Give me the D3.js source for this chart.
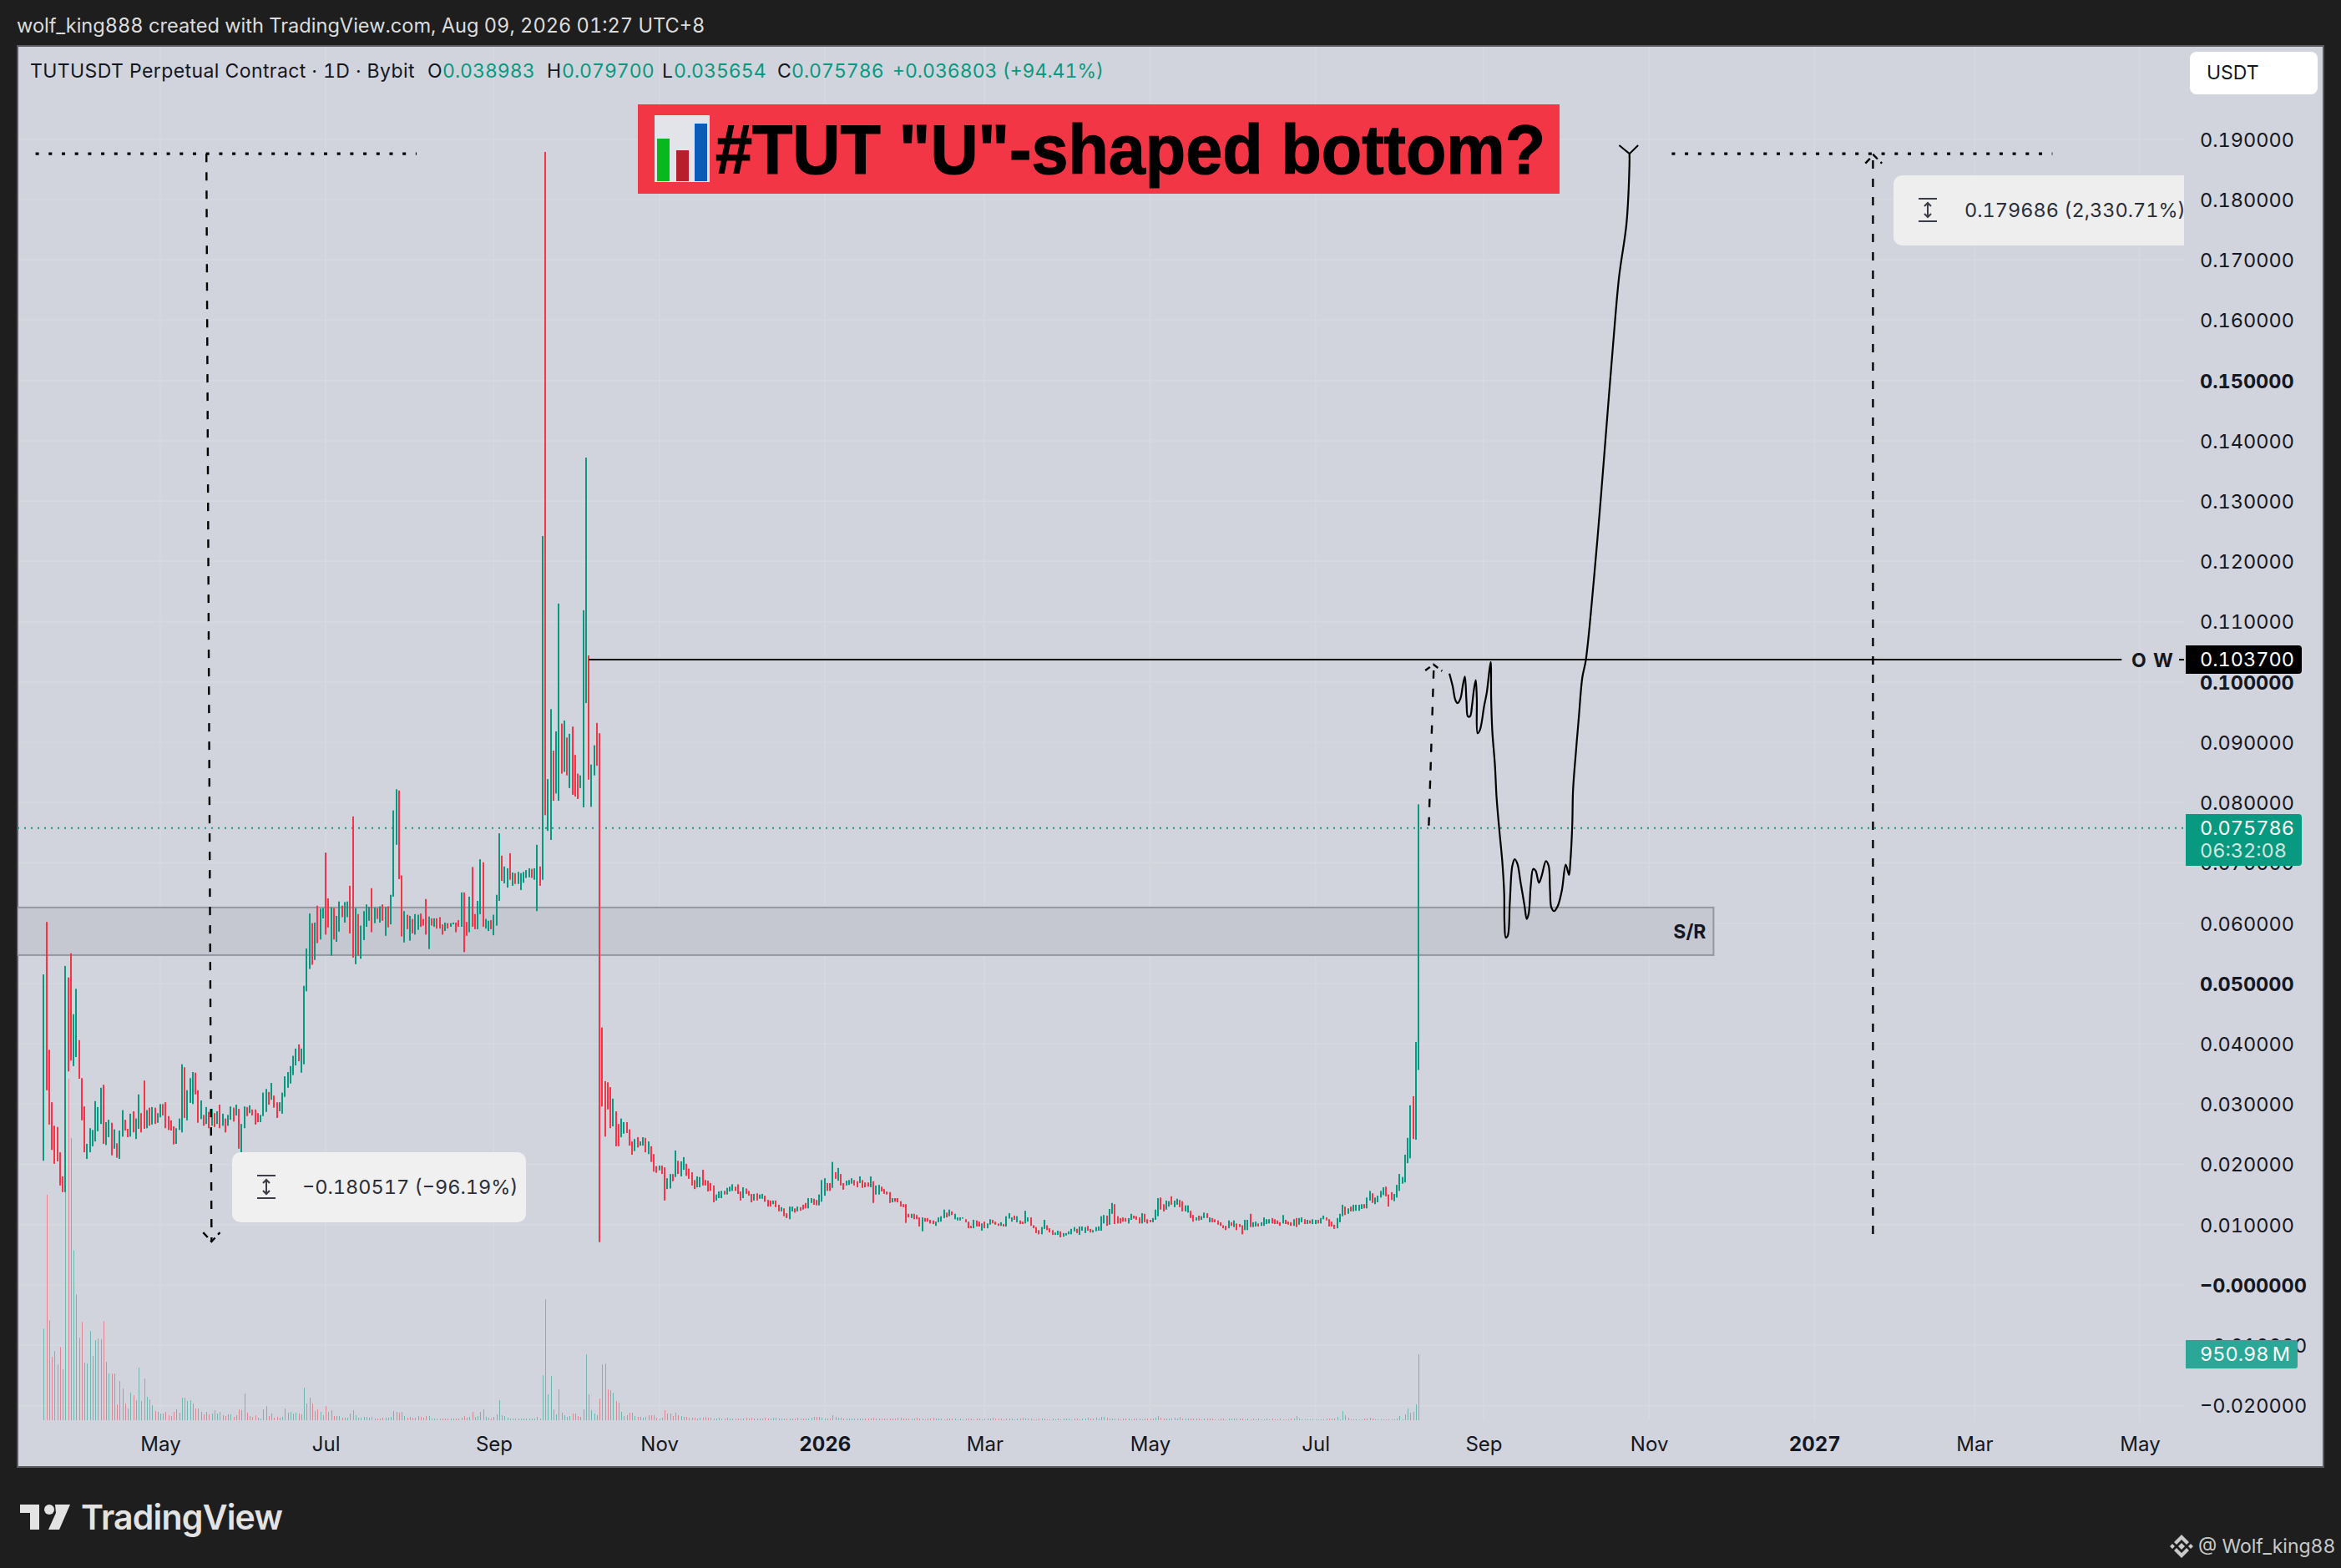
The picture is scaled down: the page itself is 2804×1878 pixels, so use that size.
<!DOCTYPE html>
<html>
<head>
<meta charset="utf-8">
<script src="https://cdn.jsdelivr.net/npm/d3@7/dist/d3.min.js"></script>
<style>
html,body{margin:0;padding:0;background:#1e1e1e;}
svg{display:block;}
text{font-family:Inter,"Noto Sans",sans-serif;font-variant-numeric:tabular-nums;}
</style>
</head>
<body>
<svg id="c" width="2804" height="1878" viewBox="0 0 2804 1878"></svg>
<script>
// prices are in thousandths of USDT; one entry per daily candle from 2025-03-19
const highs = [
51.5,60.2,39.0,30.3,26.4,26.2,22.0,18.0,52.9,51.0,55.0,44.9,49.1,40.6,34.3,29.6,23.4,26.0,25.7,30.5,29.5,32.7,33.2,27.0,27.4,26.9,25.8,23.5,25.6,29.0,27.4,25.9,28.4,28.8,27.6,31.6,28.5,33.9,29.0,29.4,29.5,29.4,28.5,30.0,30.0,30.3,28.0,27.3,26.3,26.0,27.6,36.6,
36.1,32.3,34.3,35.3,35.2,32.3,30.6,28.2,29.5,28.7,29.2,28.5,28.8,29.9,28.4,27.6,28.2,29.6,29.4,29.9,29.2,26.7,29.6,29.5,29.8,29.1,29.1,28.5,28.2,31.9,32.5,32.0,33.5,31.4,30.3,30.3,31.9,34.6,35.3,36.3,38.0,39.2,39.9,39.2,49.6,
55.8,61.6,60.0,60.1,62.9,62.4,62.5,71.7,64.1,62.6,
62.5,61.2,63.6,62.9,63.5,63.6,66.2,77.7,62.5,61.5,
59.6,62.0,63.1,62.7,65.8,62.6,62.5,62.8,63.1,62.7,
62.8,64.7,78.7,82.2,82.0,67.9,62.0,61.4,61.2,60.7,
61.5,61.4,61.6,60.7,64.0,61.1,60.8,60.8,60.8,61.0,
59.8,60.1,60.0,60.0,60.1,60.1,60.5,65.1,65.1,60.2,
64.4,69.3,61.5,63.7,70.6,70.1,60.7,60.4,60.5,61.4,
64.7,74.9,71.2,69.4,69.1,71.6,68.4,68.3,68.5,68.3,
68.5,68.8,69.1,69.0,69.1,73.0,69.4,124.2,187.9,83.9,
95.5,88.6,91.8,113.0,93.1,93.6,90.8,91.4,92.6,87.9,
84.8,84.5,111.9,137.2,104.4,86.3,89.5,93.2,91.5,
42.7,33.8,33.6,32.8,30.9,28.8,26.7,27.6,27.0,27.0,
25.8,23.8,24.2,24.5,23.8,24.5,24.4,23.8,23.0,21.7,
19.7,19.8,19.8,19.5,17.7,18.4,18.4,22.3,20.6,20.5,
21.2,20.1,19.3,18.7,17.4,18.0,17.9,19.1,17.4,17.3,
16.9,16.5,15.0,15.5,15.6,15.6,16.1,16.3,16.7,16.3,
16.7,15.5,16.2,16.0,15.6,15.1,15.1,15.2,15.0,15.1,
14.8,14.1,14.0,14.0,14.0,13.3,12.9,12.7,11.9,13.0,
13.0,12.7,13.0,12.9,13.3,13.6,14.4,14.4,14.3,14.1,
15.0,17.4,17.7,16.9,16.9,20.4,18.7,19.4,18.4,16.9,
17.3,17.4,17.7,17.4,17.2,18.0,17.4,17.0,17.0,18.0,
17.2,16.5,16.6,16.3,15.9,15.5,15.4,14.4,14.4,14.4,
13.9,13.4,13.4,11.8,11.8,11.8,11.6,11.2,11.2,11.1,
11.1,10.8,10.7,10.5,11.2,11.4,12.5,12.0,12.5,12.2,
11.8,11.2,11.2,11.2,10.9,10.5,9.8,10.8,10.7,10.5,
10.2,10.5,10.2,10.9,10.8,10.5,10.2,10.4,10.1,11.4,
11.9,11.2,11.5,11.4,10.7,10.5,12.3,11.2,11.2,9.9,
9.6,9.1,9.6,10.8,9.9,9.4,9.1,8.7,9.0,8.9,
8.6,8.6,8.9,9.3,9.6,9.3,9.7,9.7,9.6,9.8,
9.3,9.1,9.6,9.7,11.4,11.6,11.5,12.6,13.6,13.4,
11.4,11.1,11.2,11.1,11.1,11.8,11.5,11.4,11.2,11.9,
11.8,10.9,10.8,11.1,12.5,14.4,14.5,13.4,14.0,13.9,
14.7,14.0,14.3,14.1,13.9,13.2,13.2,12.3,11.6,11.2,
11.5,11.4,12.0,11.9,11.2,11.1,10.9,10.7,10.4,9.9,
9.8,10.7,10.4,10.7,10.2,10.1,9.9,10.8,10.8,11.8,
10.4,10.5,10.2,10.4,11.2,10.9,10.9,11.1,10.9,10.7,
10.4,11.6,10.8,10.5,10.4,
10.9,11.1,11.1,11.2,10.9,10.8,10.7,10.9,10.8,10.8,11.1,11.5,11.2,10.9,10.5,10.0,11.1,11.8,13.3,13.0,12.7,13.0,13.3,13.3,13.3,13.4,13.4,14.5,15.6,15.2,14.5,14.8,15.6,16.2,16.3,15.0,15.4,15.1,16.6,18.4,17.9,21.6,24.4,29.8,31.3,40.3,79.7
];
const lows = [
20.6,32.3,26.6,22.4,20.1,20.5,16.5,15.4,15.4,35.4,37.2,36.3,37.8,34.2,27.3,22.0,20.9,22.0,23.0,23.8,25.5,26.7,23.4,23.2,24.5,21.5,22.6,21.1,20.9,24.6,25.6,24.5,24.6,25.3,24.2,25.9,25.3,25.9,26.0,26.4,26.6,26.7,26.9,27.8,28.1,26.0,25.7,25.6,23.3,23.4,25.7,25.3,
27.7,27.3,30.2,30.0,31.6,26.9,27.5,26.4,26.7,26.0,26.4,26.2,26.7,26.0,26.4,25.3,26.4,27.4,27.1,28.1,22.6,22.0,26.0,28.0,28.5,28.1,26.6,27.0,27.0,28.0,28.7,29.9,30.7,29.4,27.7,28.8,28.4,31.2,32.7,33.4,34.8,36.4,37.1,35.2,36.6,
48.7,52.4,53.1,53.9,56.7,57.3,60.8,58.1,59.3,54.6,
57.3,56.9,58.6,61.0,60.1,61.0,58.3,54.3,53.2,54.6,
54.1,57.2,59.4,60.4,58.5,60.0,60.7,60.1,60.4,57.9,
59.3,59.8,64.4,73.0,67.3,57.8,56.8,59.0,57.1,58.3,
58.1,58.9,59.4,59.6,58.1,55.7,59.6,59.4,59.1,59.1,
58.1,58.7,59.1,59.4,59.8,58.5,59.4,59.4,55.2,57.9,
58.5,59.4,59.0,59.0,61.5,59.4,59.1,58.7,59.0,58.0,
59.6,63.7,67.0,66.6,65.9,67.2,66.2,66.5,66.5,65.5,
66.7,67.5,67.6,67.5,67.2,62.0,66.2,67.2,77.9,75.3,
73.8,80.3,81.5,80.3,84.8,85.1,84.5,82.4,81.3,81.0,
80.6,82.4,79.2,96.5,83.8,79.3,84.5,86.1,7.1,
29.6,24.6,29.1,26.0,26.3,23.0,23.0,24.5,25.1,25.2,
23.1,21.6,22.2,22.8,23.1,23.1,22.0,21.7,20.4,18.8,
18.6,19.0,18.4,14.0,15.9,16.0,17.2,17.9,18.4,18.0,
19.1,18.1,17.6,16.5,15.9,16.2,16.2,16.5,16.5,15.5,
15.6,13.7,14.0,14.4,14.4,15.0,15.0,15.5,15.6,15.6,
15.1,14.0,14.4,15.1,14.8,13.7,14.0,14.0,14.3,14.3,
13.8,13.0,13.0,13.4,12.9,12.2,12.2,11.4,11.1,10.9,
12.2,12.0,12.2,12.3,12.5,12.7,12.7,13.6,13.3,13.2,
13.2,13.8,14.8,15.6,15.6,16.1,17.6,17.3,16.5,15.8,
16.5,16.6,16.8,16.5,16.2,16.9,16.1,16.2,16.3,16.2,
13.6,15.0,15.0,15.5,15.1,15.0,13.6,13.7,13.8,13.7,
13.0,12.9,10.3,11.2,11.1,10.9,10.9,9.7,8.9,10.5,
10.5,10.2,10.1,9.8,10.4,10.5,11.1,11.2,11.4,11.6,
10.9,10.7,10.7,11.0,10.4,9.4,9.4,9.4,9.7,9.7,
9.0,9.4,9.4,10.0,10.2,10.0,9.8,9.8,9.7,9.7,
11.0,10.5,10.8,10.4,10.1,10.1,10.2,10.5,9.8,9.4,
8.6,8.4,8.4,9.3,9.1,8.7,8.3,8.3,8.3,7.9,
8.0,8.2,8.4,8.4,8.9,8.6,8.3,9.0,8.6,9.0,
8.7,8.7,8.9,9.0,9.0,10.2,9.8,10.0,11.8,10.1,
10.2,10.2,10.5,10.5,10.2,10.8,11.0,10.8,10.2,10.2,
10.4,10.2,10.4,10.4,10.8,11.4,12.5,12.2,12.5,13.0,
13.3,12.9,13.3,12.9,12.2,12.2,12.0,11.1,10.5,10.7,
10.7,10.8,11.1,11.1,10.4,10.4,10.4,10.0,9.8,9.4,
9.1,9.4,9.8,9.6,9.1,9.6,8.4,9.1,9.1,9.6,
9.6,9.7,9.7,9.8,9.8,10.1,10.2,10.2,10.1,10.1,
9.8,10.2,10.1,10.0,9.8,
9.8,9.6,10.0,10.4,10.1,10.1,10.2,10.1,10.1,10.2,10.2,10.9,10.7,9.7,9.7,9.3,9.4,10.4,11.4,11.6,11.8,12.2,12.2,12.3,12.3,12.6,12.7,12.7,14.0,13.6,13.4,13.7,14.5,14.9,14.7,13.0,14.1,13.9,14.5,15.6,16.8,17.0,20.2,21.0,24.2,24.1,35.654
];
// G = up day, R = down day, same order as highs and lows
const dirsEarly = "GRRRRRRRGRRGGRRRGGGGGGRGGRGRGGRRGRGGRRGRGRGGRRRRRGGG";
const dirsSpring = "RGGGRRGRGRGRGRGRGGRGRGGRGRRRGGGRGRRGGGGGGGRGG";
const dirsSummer = ["GGRGRGGRRG","RGGRGGRRGR","GGGGRGRGRG","RGGGRRGRGR","GGRRRGRGRR","RGRGGRRGRR","GRRGGRGGRG","GGRGGRGRGG","GGGRGGRGRG","GRGGRGRGRR","RGGGRGGRR"];
const dirsSlide = [
"RRRRGRRGGR","RRGRGGRGRR","RGRRGGRGRG","GRRRRGGRRR","RRGGGRGGGR","RRGRRRGRGG","RRRGRRGRRG","GRGRRRGGRR","GGGRRGRGRR","GGGRRGRRRG",
"RGGRRRRGRR","RRRRGRRRGR","RRRGGGGRGR","GGGGRRRGRR","GRGGRRRGRG","GGRGRRGGRR","RRGGRRRGGR","GGGGGRGGGR","RGGGGGRGGR","RRRRGGRRRG",
"RRRGGGRRGG","RGGRRGGRRG","RGGRGRRRRR","RGRGRRRGGR","GGRGGGGRRR","RGRRR"
];
const dirsBreakout = "GRGGRGRGGRGGRRRRGGGRGRGGGGRGGRGGGGRRRGGGGGGGRGG";
// traded volume per candle, in millions
const volumes = [
1320,3252,1440,912,996,804,1056,732,3300,4920,4068,2448,1812,1188,1416,828,816,1284,924,1152,1176,1164,1428,840,672,672,672,228,564,456,240,168,396,360,288,756,276,600,336,300,216,132,120,96,96,120,72,60,120,156,108,324,324,276,288,240,168,168,120,84,120,84,96,144,96,120,72,60,84,84,48,72,156,144,384,108,60,48,72,36,24,156,204,60,96,36,48,36,48,168,108,120,96,108,96,84,
468,240,324,240,132,156,120,72,204,120,144,60,60,60,36,36,36,96,144,72,36,36,48,48,36,48,24,24,24,36,36,36,48,132,120,108,120,60,36,48,36,36,60,48,36,60,60,24,
24,24,24,24,24,24,24,24,24,24,36,60,36,48,120,48,60,120,156,48,36,24,48,84,288,72,60,36,
24,24,24,24,24,24,24,24,24,24,48,24,648,1740,372,636,156,84,444,108,72,48,60,96,96,60,48,156,948,372,144,96,72,312,804,816,444,432,396,276,252,120,60,72,108,108,60,48,48,36,48,72,72,72,36,24,36,144,96,
96,60,108,72,60,48,48,36,36,36,24,36,36,48,36,36,24,24,36,24,24,36,24,24,24,24,24,24,36,24,
36,24,24,24,24,36,24,24,36,36,24,24,24,24,24,24,24,36,24,24,24,24,36,48,48,48,36,24,24,24,
72,48,36,36,24,24,24,24,24,24,24,24,24,24,24,36,24,24,24,24,24,24,24,24,36,36,24,24,24,24,
24,36,24,24,12,24,24,36,24,24,24,12,24,24,24,24,12,24,12,24,24,24,12,24,24,12,24,24,24,36,
24,24,24,12,24,24,24,12,24,24,36,24,24,24,12,12,24,24,24,12,12,24,12,24,12,24,24,24,12,24,
24,12,24,24,36,24,24,36,24,48,48,36,24,24,24,24,12,24,24,24,12,24,24,24,12,24,24,24,24,36,
60,36,24,24,24,24,36,24,48,24,24,24,24,24,24,24,12,24,24,24,24,12,12,24,24,12,24,24,24,24,
24,24,12,24,12,24,12,24,12,12,24,12,24,12,12,24,12,12,12,24,
24,60,24,12,12,12,12,12,12,12,12,12,24,24,24,24,48,12,132,72,36,12,12,12,12,12,24,24,36,24,12,12,12,12,12,12,12,12,24,60,12,84,168,108,120,228,950.98
];
const monthLabels = ["May","Jul","Sep","Nov","2026","Mar","May","Jul","Sep","Nov","2027","Mar","May"];
const priceTicks = [190,180,170,160,150,140,130,120,110,100,90,80,70,60,50,40,30,20,10,0,-10,-20];
const boldTicks = [150,100,50,0];
const lastPrice = 75.786;
const owPrice = 103.7;
const srTop = 62.6, srBottom = 54.7;
// hand-drawn scenario path: candle number and price
const brushDay = [518.4,519.6,520.6,521.4,522.5,523.3,524.1,524.7,525.2,526,526.8,527.4,528.1,528.5,528.8,529.7,531.2,532.2,533.6,533.8,534.2,535.2,535.8,536.8,537.9,538.6,538.7,539.2,539.9,540.7,541.6,542.5,543.5,544.6,546.1,546.9,547.6,548.4,549.3,550.2,551.4,552.4,554,555,555.5,556,557,558.4,559.9,561.3,562.5,563,563.7,564,565,566.1,567.4,568.7,571.6,574.4,576.6,578.8,581,583.7,584.8,584.8];
const brushPrice = [101.4,99.3,97.0,96.5,97.3,99.3,100.9,96.7,94.3,94.3,96.3,98.6,100.3,97.3,91.5,92.1,96.0,98.3,103.3,97.3,92.0,86.1,80.8,75.5,70.2,64.9,60.2,57.6,57.9,63.6,69.5,70.6,69.8,66.9,62.9,60.7,61.5,66.2,69.0,68.7,66.7,67.8,70.3,69.5,65.5,62.6,62.0,62.9,65.5,69.7,68.0,70.2,76.2,82.1,88.1,94.0,100.7,103.6,116.6,131.4,143.9,156.2,167.3,176,185.8,187.6];
</script>
<script>
const dirList=(dirsEarly+dirsSpring+dirsSummer.join("")+dirsSlide.join("")+dirsBreakout).split("");
const GREEN="#089981", RED="#F23645", PANEL="#D1D4DC";
const svg=d3.select("#c");
const start=new Date(Date.UTC(2025,2,19));
const xTime=d3.scaleUtc().domain([new Date(Date.UTC(2025,4,1)),new Date(Date.UTC(2027,4,1))]).range([192,2563]);
const xAt=i=>xTime(new Date(+start+i*864e5));
const y=d3.scaleLinear().domain([0,190]).range([1539,166.8]);
const yVol=d3.scaleLinear().domain([0,950.98]).range([1701,1622]);
const candles=highs.map((h,i)=>({i,h,l:lows[i],d:dirList[i],v:volumes[i]}));
if(highs.length!==lows.length||highs.length!==volumes.length||highs.length!==dirList.length||highs.length!==508)
  throw new Error("lengths "+[highs.length,lows.length,volumes.length,dirList.length].join(","));

// frame
svg.append("rect").attr("width",2804).attr("height",1878).attr("fill","#1e1e1e");
svg.append("rect").attr("x",21).attr("y",55).attr("width",2762).attr("height",1702).attr("fill",PANEL).attr("stroke","#5a5b60").attr("stroke-width",2);
svg.append("text").attr("x",20).attr("y",31).attr("dy",".35em").attr("fill","#dcdcdc").attr("font-size",23.6)
  .text("wolf_king888 created with TradingView.com, Aug 09, 2026 01:27 UTC+8");

const defs=svg.append("defs");
defs.append("clipPath").attr("id","plot").append("rect").attr("x",21).attr("y",56).attr("width",2595).attr("height",1646);

// grid
const monthDates=monthLabels.map((m,i)=>new Date(Date.UTC(2025,4+2*i,1)));
const grid=svg.append("g").attr("stroke","#d6d9e0").attr("stroke-width",1.5);
grid.selectAll("line.h").data(priceTicks).join("line").attr("class","h")
  .attr("x1",22).attr("x2",2616).attr("y1",d=>y(d)).attr("y2",d=>y(d));
grid.selectAll("line.v").data(monthDates).join("line").attr("class","v")
  .attr("x1",d=>xTime(d)).attr("x2",d=>xTime(d)).attr("y1",56).attr("y2",1701);

const plot=svg.append("g").attr("clip-path","url(#plot)");
// S/R zone
plot.append("rect").attr("x",21).attr("y",y(srTop)).attr("width",xAt(615.8)-21).attr("height",y(srBottom)-y(srTop))
  .attr("fill","#c5c8d1").attr("stroke","#9598a1").attr("stroke-width",2);
plot.append("text").attr("x",xAt(615.8)-9).attr("y",(y(srTop)+y(srBottom))/2+1).attr("dy",".35em").attr("text-anchor","end")
  .attr("font-size",23).attr("font-weight",700).attr("fill","#131722").text("S/R");

// last price line
plot.append("line").attr("x1",21).attr("x2",2616).attr("y1",y(lastPrice)).attr("y2",y(lastPrice))
  .attr("stroke",GREEN).attr("stroke-width",2).attr("stroke-dasharray","2 6");

// volume
plot.append("g").selectAll("rect").data(candles).join("rect")
  .attr("x",d=>Math.round(xAt(d.i))).attr("width",1).attr("y",d=>yVol(d.v)).attr("height",d=>1701-yVol(d.v))
  .attr("fill",d=>d.d==="G"?GREEN:RED).attr("opacity",.5);
// candles
plot.append("g").selectAll("rect").data(candles).join("rect")
  .attr("x",d=>Math.round(xAt(d.i))-1).attr("width",2).attr("y",d=>y(d.h)).attr("height",d=>Math.max(1,y(d.l)-y(d.h)))
  .attr("fill",d=>d.d==="G"?GREEN:RED);

// annotations in chart coordinates
const ln=d3.line().x(d=>xAt(d[0])).y(d=>y(d[1]));
function path(pts,dash,w){
  plot.append("path").attr("d",ln(pts)).attr("fill","none").attr("stroke","#000").attr("stroke-width",w||2).attr("stroke-dasharray",dash||null);
}
path([[-3,187.6],[137.5,187.6]],"4 11.7",3.2);
path([[600.4,187.6],[740.8,187.6]],"4 11.7",3.2);
path([[60,187.6],[61.9,7.2]],"10 12",2.4);
path([[58.8,8.7],[61.9,7.2],[65,8.7]],"8 5",2.4);
path([[674.6,186.5],[674.6,7.9]],"10 12",2.4);
path([[671.8,186],[674.8,187.4],[677.9,186]],"8 5",2.4);
path([[510.8,76.2],[512.6,101.9]],"10 12",2.4);
path([[509.5,101.9],[512.5,102.9],[515.7,101.8]],"7 5",2.4);
path([[201,owPrice],[766.3,owPrice]]);
plot.append("path").attr("d",d3.line().curve(d3.curveCatmullRom.alpha(.5)).x((d,i)=>xAt(brushDay[i])).y((d,i)=>y(brushPrice[i]))(brushDay))
  .attr("fill","none").attr("stroke","#000").attr("stroke-width",2.2).attr("stroke-linejoin","round");
path([[581,189],[584.8,187.6],[588,189]]);
plot.append("line").attr("x1",2610).attr("x2",2616).attr("y1",y(owPrice)).attr("y2",y(owPrice)).attr("stroke","#000").attr("stroke-width",2);
plot.append("text").attr("x",2553).attr("y",y(owPrice)+1).attr("dy",".35em").attr("font-size",23).attr("font-weight",700).attr("letter-spacing",1).attr("fill","#131722").text("O W");

// measure tooltips
function tip(x,yy,w,h,fill,label,tx,iconX){
  const g=plot.append("g");
  g.append("rect").attr("x",x).attr("y",yy).attr("width",w).attr("height",h).attr("rx",10).attr("fill",fill);
  const cy=yy+h/2;
  g.append("text").attr("x",tx).attr("y",cy).attr("dy",".35em").attr("font-size",23.5).attr("fill","#2a2e39").text(label);
  const ic=g.append("g").attr("stroke","#3a3d47").attr("stroke-width",2).attr("fill","none");
  ic.append("path").attr("d",`M${iconX-11} ${cy-14}H${iconX+11}M${iconX-11} ${cy+13}H${iconX+11}M${iconX} ${cy-9}V${cy+8}M${iconX-4} ${cy-5}L${iconX} ${cy-9}L${iconX+4} ${cy-5}M${iconX-4} ${cy+4}L${iconX} ${cy+8}L${iconX+4} ${cy+4}`);
}
tip(278,1380,352,84,"#f0f0f1","−0.180517 (−96.19%)",362,319);
tip(2268,210,400,84,"#eeeeef","0.179686 (2,330.71%)",2353,2309);

// price axis
const fmt=v=>(v<=0?"−":"")+Math.abs(v/1000).toFixed(6);
const yAxis=svg.append("g").attr("transform","translate(2635,0.8)")
  .call(d3.axisRight(y).tickValues(priceTicks).tickSize(0).tickPadding(0).tickFormat(fmt));
yAxis.select(".domain").remove();
yAxis.selectAll("text").attr("font-size",23.5).attr("fill","#131722").attr("font-family","Inter")
  .attr("font-weight",d=>boldTicks.includes(d)?700:400);

// time axis
const xAxis=svg.append("g").attr("transform","translate(0,1721)")
  .call(d3.axisBottom(xTime).tickValues(monthDates).tickSize(0).tickPadding(0).tickFormat((d,i)=>monthLabels[i]));
xAxis.select(".domain").remove();
xAxis.selectAll("text").attr("font-size",24).attr("fill","#131722").attr("font-family","Inter").attr("dy",".71em")
  .attr("font-weight",(d,i)=>/^\d/.test(monthLabels[i])?700:400);

// price labels
function badge(yy,h,fill,lines){
  svg.append("path").attr("d",`M2618 ${yy}H2753a4 4 0 0 1 4 4V${yy+h-4}a4 4 0 0 1 -4 4H2618Z`).attr("fill",fill);
  lines.forEach(l=>svg.append("text").attr("x",2635).attr("y",l.y).attr("dy",".35em").attr("font-size",23.5).attr("fill",l.c).text(l.t));
}
badge(y(owPrice)-17,34,"#000",[{y:y(owPrice),c:"#fff",t:"0.103700"}]);
badge(975,62,"#089981",[{y:y(lastPrice),c:"#fff",t:"0.075786"},{y:1019,c:"#cfe6e1",t:"06:32:08"}]);
svg.append("path").attr("d","M2618 1605H2749a3 3 0 0 1 3 3V1636a3 3 0 0 1 -3 3H2618Z").attr("fill","#2aa796");
svg.append("text").attr("x",2635).attr("y",yVol(950.98)).attr("dy",".35em").attr("font-size",23.5).attr("fill","#fff").text("950.98\u2009M");

// legend
const legend=[
 {x:36,t:"TUTUSDT Perpetual Contract · 1D · Bybit",c:"#131722",ls:.42},
 {x:512,t:"O",c:"#131722"},{x:530,t:"0.038983",c:GREEN},
 {x:655,t:"H",c:"#131722"},{x:673,t:"0.079700",c:GREEN},
 {x:793,t:"L",c:"#131722"},{x:807,t:"0.035654",c:GREEN},
 {x:931,t:"C",c:"#131722"},{x:948,t:"0.075786",c:GREEN},
 {x:1069,t:"+0.036803 (+94.41%)",c:GREEN}];
svg.append("g").selectAll("text").data(legend).join("text").attr("x",d=>d.x).attr("y",85).attr("dy",".35em")
  .attr("font-size",23).attr("letter-spacing",d=>d.ls||0).attr("fill",d=>d.c).text(d=>d.t);

// USDT button
svg.append("rect").attr("x",2623).attr("y",62).attr("width",153).attr("height",51).attr("rx",8).attr("fill","#fff");
svg.append("text").attr("x",2643).attr("y",87).attr("dy",".35em").attr("font-size",23).attr("fill","#131722").text("USDT");

// title banner
svg.append("rect").attr("x",764).attr("y",125).attr("width",1104).attr("height",107).attr("fill","#F23645");
const em=svg.append("g");
em.append("rect").attr("x",784).attr("y",138).attr("width",66).attr("height",80).attr("fill","#e2e4ea");
em.append("rect").attr("x",787).attr("y",166).attr("width",15).attr("height",51).attr("fill","#08b81e");
em.append("rect").attr("x",810).attr("y",180).attr("width",15).attr("height",37).attr("fill","#b81f2c");
em.append("rect").attr("x",832).attr("y",148).attr("width",15).attr("height",69).attr("fill","#0a5cb8");
svg.append("text").attr("x",857).attr("y",208).style("font-family","'Liberation Sans'").attr("font-weight",700).attr("font-size",84)
  .attr("textLength",994).attr("lengthAdjust","spacingAndGlyphs").attr("fill","#000").attr("stroke","#000").attr("stroke-width",1.2)
  .text('#TUT "U"-shaped bottom?');

// footer
const logo=svg.append("g").attr("fill","#e3e3e3");
logo.append("path").attr("d","M24 1802H47V1832H36V1812H24Z");
logo.append("circle").attr("cx",59).attr("cy",1808).attr("r",6);
logo.append("path").attr("d","M66 1802H84L71 1832H58L67 1812Z");
svg.append("text").attr("x",97).attr("y",1832).attr("font-size",41).attr("font-weight",600).attr("fill","#e3e3e3").attr("letter-spacing",-.8).text("TradingView");
const bn=svg.append("g").attr("fill","#c9c9c9").attr("transform","translate(2613,1852)");
bn.append("path").attr("d","M-14 0L-11 -3L-8 0L-11 3ZM8 0L11 -3L14 0L11 3ZM-4 0L0 -4L4 0L0 4ZM0 -14L9 -5L6 -2L0 -8L-6 -2L-9 -5ZM0 14L9 5L6 2L0 8L-6 2L-9 5Z");
svg.append("text").attr("x",2633).attr("y",1852).attr("dy",".35em").attr("font-size",23).attr("fill","#c9c9c9").text("@ Wolf_king88");
</script>
</body>
</html>
